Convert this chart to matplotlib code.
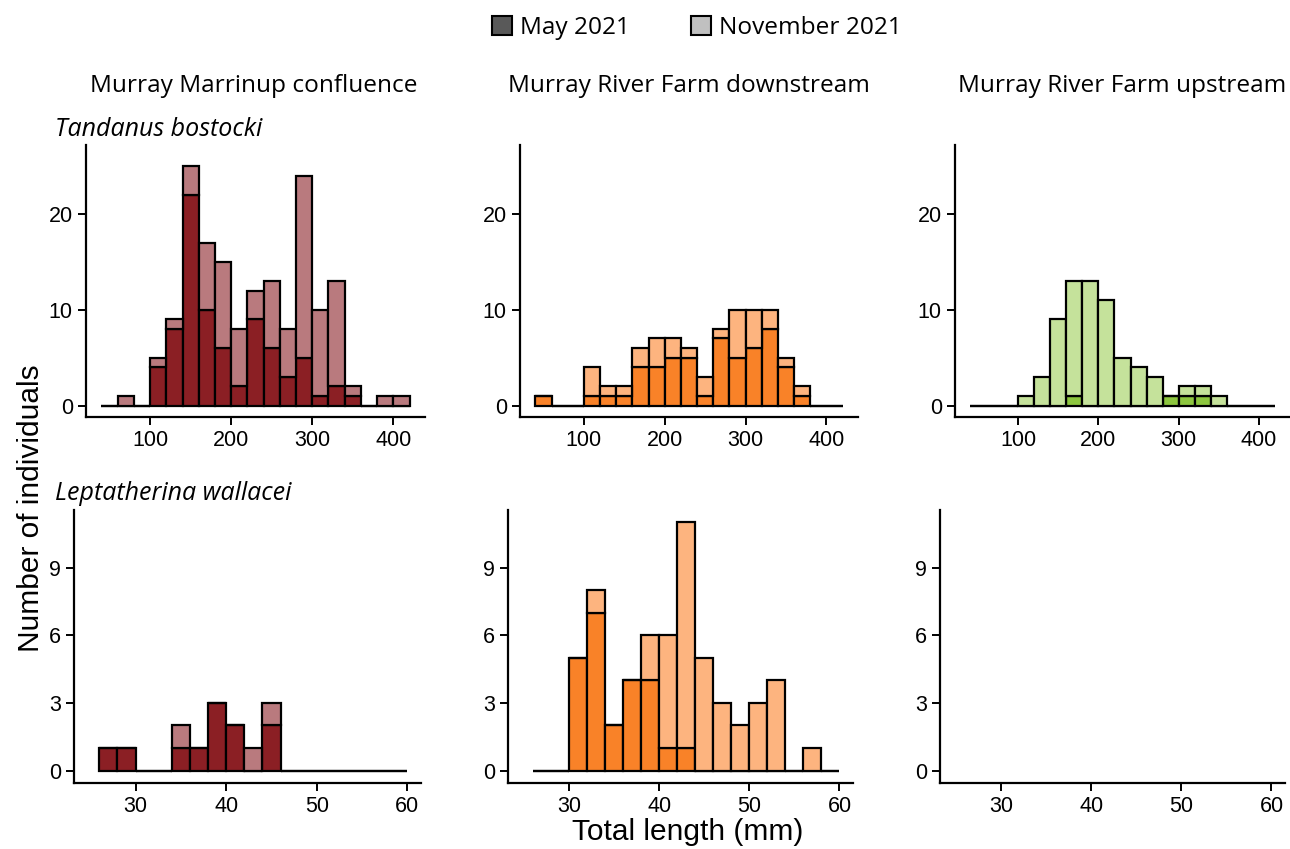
"""
Length-frequency histograms, May vs November 2021, three Murray River sites.
"""

import numpy as np
import matplotlib.pyplot as plt
from matplotlib.patches import Patch

# ---- data -------------------------------------------------------------
sites = ["Murray Marrinup confluence", "Murray River Farm downstream",
         "Murray River Farm upstream"]
species = ["Tandanus bostocki", "Leptatherina wallacei"]
seasons = ["May 2021", "November 2021"]

# bin edges (mm)
tb_edges = np.arange(40, 421, 20)
lw_edges = np.arange(26, 61, 2)

# Tandanus bostocki counts per bin (40-60 ... 400-420)
tb_may = [
    [0, 0, 0, 4, 8, 22, 10, 6, 2, 9, 6, 3, 5, 1, 2, 1, 0, 0, 0],
    [1, 0, 0, 1, 1, 1, 4, 4, 5, 5, 1, 7, 5, 6, 8, 4, 1, 0, 0],
    [0, 0, 0, 0, 0, 0, 1, 0, 0, 0, 0, 0, 1, 1, 1, 0, 0, 0, 0],
]
tb_nov = [
    [0, 1, 0, 1, 1, 3, 7, 9, 6, 3, 7, 5, 19, 9, 11, 1, 0, 1, 1],
    [0, 0, 0, 3, 1, 1, 2, 3, 2, 1, 2, 1, 5, 4, 2, 1, 1, 0, 0],
    [0, 0, 0, 1, 3, 9, 12, 13, 11, 5, 4, 3, 0, 1, 1, 1, 0, 0, 0],
]

# Leptatherina wallacei counts per bin (26-28 ... 58-60); none upstream
lw_may = [
    [1, 1, 0, 0, 1, 1, 3, 2, 0, 2, 0, 0, 0, 0, 0, 0, 0],
    [0, 0, 5, 7, 2, 4, 4, 1, 1, 0, 0, 0, 0, 0, 0, 0, 0],
    None,
]
lw_nov = [
    [0, 0, 0, 0, 1, 0, 0, 0, 1, 1, 0, 0, 0, 0, 0, 0, 0],
    [0, 0, 0, 1, 0, 0, 2, 5, 10, 5, 3, 2, 3, 4, 0, 1, 0],
    None,
]

# site colours: (May, November)
site_colors = [("#8b1f24", "#b97a7e"), ("#f98228", "#fdb47f"),
               ("#8dc63f", "#c5e29b")]
legend_colors = ("#595959", "#c0c0c0")

# ---- figure -------------------------------------------------------------
W, H = 1290, 849
fig = plt.figure(figsize=(W / 100, H / 100), dpi=100)

tick_font = "Liberation Sans"
title_font = "Open Sans"


def px_axes(left, right, top, bottom):
    return fig.add_axes([left / W, 1 - bottom / H, (right - left) / W,
                         (bottom - top) / H])


top_boxes = [(86, 425), (520, 858), (955, 1290)]
bot_boxes = [(74, 421), (508, 853), (940, 1285)]


def style(ax, yticks):
    for s in ("top", "right"):
        ax.spines[s].set_visible(False)
    for s in ("left", "bottom"):
        ax.spines[s].set_linewidth(1.6)
    ax.tick_params(length=6, width=1.4, color="black", labelsize=15.5,
                   pad=3.5)
    ax.set_yticks(yticks)
    for lab in ax.get_xticklabels() + ax.get_yticklabels():
        lab.set_fontfamily(tick_font)


def draw(ax, edges, may, nov, cols):
    if may is None:
        return
    left = edges[:-1]
    width = np.diff(edges)
    ax.bar(left, may, width=width, align="edge", color=cols[0],
           edgecolor="black", linewidth=1.6)
    ax.bar(left, nov, width=width, bottom=may, align="edge", color=cols[1],
           edgecolor="black", linewidth=1.6)


for i in range(3):
    ax = px_axes(top_boxes[i][0], top_boxes[i][1], 145, 417)
    draw(ax, tb_edges, tb_may[i], tb_nov[i], site_colors[i])
    ax.set_xlim(21, 439)
    ax.set_ylim(-1.2, 27.2)
    ax.set_xticks([100, 200, 300, 400])
    style(ax, [0, 10, 20])

    ax = px_axes(bot_boxes[i][0], bot_boxes[i][1], 510, 783)
    draw(ax, lw_edges, lw_may[i], lw_nov[i], site_colors[i])
    ax.set_xlim(23.2, 61.5)
    ax.set_ylim(-0.55, 11.55)
    ax.set_xticks([30, 40, 50, 60])
    style(ax, [0, 3, 6, 9])

# column titles
for x, name in zip([254, 689, 1122], sites):
    fig.text(x / W, 1 - 86 / H, name, ha="center", va="center",
             fontsize=17.6, family=title_font)

# species labels
fig.text(55 / W, 1 - 129 / H, species[0], ha="left", va="center",
         fontsize=18, style="italic", family=title_font)
fig.text(55 / W, 1 - 494 / H, species[1], ha="left", va="center",
         fontsize=18, style="italic", family=title_font)

# axis labels
fig.text(31 / W, 1 - 508 / H, "Number of individuals", rotation=90,
         ha="center", va="center", fontsize=21.5, family=tick_font)
fig.text(688 / W, 1 - 832 / H, "Total length (mm)", ha="center",
         va="center", fontsize=21.5, family=tick_font)

handles = [Patch(facecolor=c, edgecolor="black", linewidth=1.5)
           for c in legend_colors]
fig.legend(handles, seasons, loc="center", bbox_to_anchor=(697 / W, 1 - 28 / H),
           ncol=2, frameon=False, prop={"family": title_font, "size": 17.6},
           handlelength=0.8, handleheight=0.8, handletextpad=0.35,
           columnspacing=2.5)

fig.savefig("out.png", dpi=100)
